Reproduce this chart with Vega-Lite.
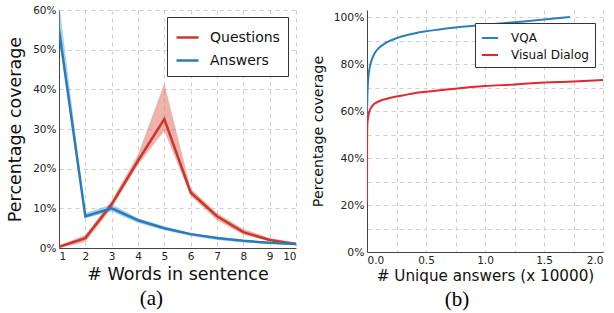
{
  "$schema": "https://vega.github.io/schema/vega-lite/v6.json",
  "padding": {"left": 6, "top": 5, "right": 4, "bottom": 2},
  "spacing": 15,
  "background": "white",
  "resolve": {"scale": {"color": "independent"}, "legend": {"color": "independent"}},
  "config": {
    "font": "DejaVu Sans",
    "view": {"stroke": null},
    "axis": {
      "grid": true,
      "gridDash": [4, 4],
      "gridColor": "#cfcfcf",
      "gridWidth": 1,
      "domainColor": "#444",
      "domainWidth": 1,
      "ticks": false,
      "labelOverlap": false,
      "labelColor": "#222",
      "titleColor": "#111",
      "titleFontWeight": "normal",
      "labelFont": "DejaVu Sans",
      "titleFont": "DejaVu Sans"
    },
    "legend": {
      "labelFont": "DejaVu Sans",
      "labelColor": "#111"
    }
  },
  "datasets": {
    "words": [
      {"series": "Questions", "words": 1, "pct": 0.3, "lo": 0, "hi": 0.6},
      {"series": "Questions", "words": 2, "pct": 2.5, "lo": 1.5, "hi": 3.3},
      {"series": "Questions", "words": 3, "pct": 11, "lo": 10, "hi": 12},
      {"series": "Questions", "words": 4, "pct": 22, "lo": 21, "hi": 23.5},
      {"series": "Questions", "words": 5, "pct": 32.5, "lo": 29.5, "hi": 41.5},
      {"series": "Questions", "words": 6, "pct": 14, "lo": 13.2, "hi": 15},
      {"series": "Questions", "words": 7, "pct": 8, "lo": 7, "hi": 8.8},
      {"series": "Questions", "words": 8, "pct": 4, "lo": 3.4, "hi": 4.8},
      {"series": "Questions", "words": 9, "pct": 2, "lo": 1.7, "hi": 2.5},
      {"series": "Questions", "words": 10, "pct": 1, "lo": 0.8, "hi": 1.3},
      {"series": "Answers", "words": 1, "pct": 55, "lo": 53, "hi": 62},
      {"series": "Answers", "words": 2, "pct": 8, "lo": 7.5, "hi": 8.8},
      {"series": "Answers", "words": 3, "pct": 10, "lo": 9.2, "hi": 11},
      {"series": "Answers", "words": 4, "pct": 7, "lo": 6.3, "hi": 7.5},
      {"series": "Answers", "words": 5, "pct": 5, "lo": 4.5, "hi": 5.5},
      {"series": "Answers", "words": 6, "pct": 3.5, "lo": 3, "hi": 3.8},
      {"series": "Answers", "words": 7, "pct": 2.5, "lo": 2, "hi": 2.8},
      {"series": "Answers", "words": 8, "pct": 1.8, "lo": 1.4, "hi": 2.1},
      {"series": "Answers", "words": 9, "pct": 1.3, "lo": 1, "hi": 1.5},
      {"series": "Answers", "words": 10, "pct": 1, "lo": 0.7, "hi": 1.1}
    ],
    "unique": [
      {"series": "VQA", "i": 0, "ans": 0, "pct": 58},
      {"series": "VQA", "i": 1, "ans": 0.003, "pct": 66},
      {"series": "VQA", "i": 2, "ans": 0.008, "pct": 72},
      {"series": "VQA", "i": 3, "ans": 0.015, "pct": 76},
      {"series": "VQA", "i": 4, "ans": 0.025, "pct": 79},
      {"series": "VQA", "i": 5, "ans": 0.035, "pct": 81},
      {"series": "VQA", "i": 6, "ans": 0.05, "pct": 83},
      {"series": "VQA", "i": 7, "ans": 0.07, "pct": 85},
      {"series": "VQA", "i": 8, "ans": 0.1, "pct": 86.8},
      {"series": "VQA", "i": 9, "ans": 0.15, "pct": 88.7},
      {"series": "VQA", "i": 10, "ans": 0.2, "pct": 90},
      {"series": "VQA", "i": 11, "ans": 0.3, "pct": 91.8},
      {"series": "VQA", "i": 12, "ans": 0.4, "pct": 93},
      {"series": "VQA", "i": 13, "ans": 0.5, "pct": 93.9},
      {"series": "VQA", "i": 14, "ans": 0.6, "pct": 94.6},
      {"series": "VQA", "i": 15, "ans": 0.75, "pct": 95.5},
      {"series": "VQA", "i": 16, "ans": 1.0, "pct": 96.7},
      {"series": "VQA", "i": 17, "ans": 1.25, "pct": 97.8},
      {"series": "VQA", "i": 18, "ans": 1.5, "pct": 98.9},
      {"series": "VQA", "i": 19, "ans": 1.72, "pct": 100},
      {"series": "Visual Dialog", "i": 0, "ans": 0, "pct": 21},
      {"series": "Visual Dialog", "i": 1, "ans": 0.001, "pct": 50},
      {"series": "Visual Dialog", "i": 2, "ans": 0.004, "pct": 55},
      {"series": "Visual Dialog", "i": 3, "ans": 0.01, "pct": 57.5},
      {"series": "Visual Dialog", "i": 4, "ans": 0.02, "pct": 59.8},
      {"series": "Visual Dialog", "i": 5, "ans": 0.03, "pct": 61},
      {"series": "Visual Dialog", "i": 6, "ans": 0.05, "pct": 62.5},
      {"series": "Visual Dialog", "i": 7, "ans": 0.08, "pct": 63.6},
      {"series": "Visual Dialog", "i": 8, "ans": 0.12, "pct": 64.5},
      {"series": "Visual Dialog", "i": 9, "ans": 0.16, "pct": 65.1},
      {"series": "Visual Dialog", "i": 10, "ans": 0.25, "pct": 66.2},
      {"series": "Visual Dialog", "i": 11, "ans": 0.3, "pct": 66.6},
      {"series": "Visual Dialog", "i": 12, "ans": 0.4, "pct": 67.6},
      {"series": "Visual Dialog", "i": 13, "ans": 0.5, "pct": 68.2},
      {"series": "Visual Dialog", "i": 14, "ans": 0.58, "pct": 68.6},
      {"series": "Visual Dialog", "i": 15, "ans": 0.75, "pct": 69.5},
      {"series": "Visual Dialog", "i": 16, "ans": 1.0, "pct": 70.6},
      {"series": "Visual Dialog", "i": 17, "ans": 1.25, "pct": 71.3},
      {"series": "Visual Dialog", "i": 18, "ans": 1.43, "pct": 71.9},
      {"series": "Visual Dialog", "i": 19, "ans": 1.75, "pct": 72.6},
      {"series": "Visual Dialog", "i": 20, "ans": 2.0, "pct": 73.2}
    ]
  },
  "hconcat": [
    {
      "width": 237,
      "height": 238,
      "title": {"text": "(a)", "orient": "bottom", "font": "Liberation Serif", "fontSize": 21, "fontWeight": "normal", "color": "#000", "frame": "bounds", "anchor": "middle", "offset": 5},
      "data": {"name": "words"},
      "encoding": {
        "x": {"field": "words", "type": "quantitative", "scale": {"domain": [1, 10], "nice": false, "zero": false},
              "axis": {"values": [1,2,3,4,5,6,7,8,9,10], "labelOverlap": false, "title": "# Words in sentence", "titleFontSize": 17.5, "labelFontSize": 10.5, "labelPadding": 3, "titlePadding": 4}}
      },
      "layer": [
        {
          "transform": [{"filter": "datum.series == 'Questions'"}],
          "mark": {"type": "area", "opacity": 0.5, "color": "#e0645a", "clip": true},
          "encoding": {
            "y": {"field": "lo", "type": "quantitative", "scale": {"domain": [0, 60], "nice": false},
                  "axis": {"values": [0,10,20,30,40,50,60], "labelOverlap": false, "labelExpr": "datum.value + '%'", "title": "Percentage coverage", "titleFontSize": 17.5, "labelFontSize": 10.5, "labelPadding": 3, "titlePadding": 8}},
            "y2": {"field": "hi"}
          }
        },
        {
          "transform": [{"filter": "datum.series == 'Answers'"}],
          "mark": {"type": "area", "opacity": 0.5, "color": "#5aa8e0", "clip": true},
          "encoding": {
            "y": {"field": "lo", "type": "quantitative", "scale": {"domain": [0, 60], "nice": false},
                  "axis": {"values": [0,10,20,30,40,50,60], "labelOverlap": false, "labelExpr": "datum.value + '%'", "title": "Percentage coverage", "titleFontSize": 17.5, "labelFontSize": 10.5, "labelPadding": 3, "titlePadding": 8}},
            "y2": {"field": "hi"}
          }
        },
        {
          "mark": {"type": "line", "strokeWidth": 2.5, "clip": true},
          "encoding": {
            "y": {"field": "pct", "type": "quantitative", "scale": {"domain": [0, 60], "nice": false},
                  "axis": {"values": [0,10,20,30,40,50,60], "labelOverlap": false, "labelExpr": "datum.value + '%'", "title": "Percentage coverage", "titleFontSize": 17.5, "labelFontSize": 10.5, "labelPadding": 3, "titlePadding": 8}},
            "color": {"field": "series", "type": "nominal", "scale": {"domain": ["Questions", "Answers"], "range": ["#c8392b", "#2b7bba"]},
                      "legend": {"title": null, "orient": "none", "legendX": 108, "legendY": 7, "padding": 8, "strokeColor": "#333", "fillColor": "white", "symbolType": "stroke", "symbolSize": 484, "symbolStrokeWidth": 2.5, "labelFontSize": 14, "labelOffset": 10, "rowPadding": 3, "cornerRadius": 0}}
          }
        }
      ]
    },
    {
      "width": 236,
      "height": 242,
      "title": {"text": "(b)", "orient": "bottom", "font": "Liberation Serif", "fontSize": 21, "fontWeight": "normal", "color": "#000", "frame": "bounds", "anchor": "middle", "offset": 5},
      "data": {"name": "unique"},
      "mark": {"type": "line", "strokeWidth": 2, "clip": true, "interpolate": "monotone"},
      "encoding": {
        "x": {"field": "ans", "type": "quantitative", "scale": {"domain": [0, 2], "nice": false},
              "axis": {"values": [0,0.25,0.5,0.75,1,1.25,1.5,1.75,2], "labelExpr": "datum.value % 0.5 == 0 ? format(datum.value, '.1f') : ''", "title": "# Unique answers (x 10000)", "titleFontSize": 15.2, "labelFontSize": 10.5, "labelPadding": 3, "titlePadding": 3}},
        "y": {"field": "pct", "type": "quantitative", "scale": {"domain": [0, 102.98], "nice": false},
              "axis": {"values": [0,10,20,30,40,50,60,70,80,90,100], "labelExpr": "datum.value % 20 == 0 ? datum.value + '%' : ''", "title": "Percentage coverage", "titleFontSize": 14.3, "labelFontSize": 10.8, "labelPadding": 3, "titlePadding": 8}},
        "order": {"field": "i", "type": "quantitative"},
        "color": {"field": "series", "type": "nominal", "scale": {"domain": ["VQA", "Visual Dialog"], "range": ["#2a7fbf", "#e0282e"]},
                  "legend": {"title": null, "orient": "none", "legendX": 108, "legendY": 13, "padding": 6, "strokeColor": "#333", "fillColor": "white", "symbolType": "stroke", "symbolSize": 256, "symbolStrokeWidth": 2, "labelFontSize": 12, "labelOffset": 12, "rowPadding": 2, "cornerRadius": 0}}
      }
    }
  ]
}
